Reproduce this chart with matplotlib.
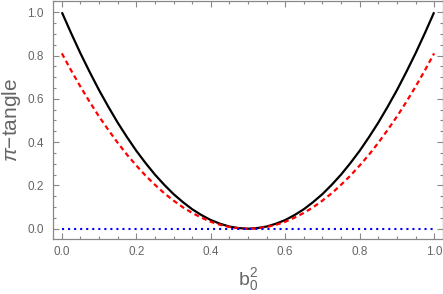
import matplotlib
matplotlib.use("Agg")
import matplotlib.pyplot as plt
from matplotlib.ticker import MultipleLocator

# values
x_vals = [0.000, 0.025, 0.050, 0.075, 0.100, 0.125, 0.150, 0.175, 0.200, 0.225,
          0.250, 0.275, 0.300, 0.325, 0.350, 0.375, 0.400, 0.425, 0.450, 0.475,
          0.500, 0.525, 0.550, 0.575, 0.600, 0.625, 0.650, 0.675, 0.700, 0.725,
          0.750, 0.775, 0.800, 0.825, 0.850, 0.875, 0.900, 0.925, 0.950, 0.975, 1.000]
black_vals = [1.000, 0.903, 0.810, 0.723, 0.640, 0.563, 0.490, 0.423, 0.360, 0.303,
              0.250, 0.203, 0.160, 0.123, 0.090, 0.063, 0.040, 0.023, 0.010, 0.003,
              0.000, 0.003, 0.010, 0.023, 0.040, 0.063, 0.090, 0.123, 0.160, 0.203,
              0.250, 0.303, 0.360, 0.423, 0.490, 0.563, 0.640, 0.723, 0.810, 0.903, 1.000]
red_vals = [0.810, 0.731, 0.656, 0.585, 0.518, 0.456, 0.397, 0.342, 0.292, 0.245,
            0.203, 0.164, 0.130, 0.099, 0.073, 0.051, 0.032, 0.018, 0.008, 0.002,
            0.000, 0.002, 0.008, 0.018, 0.032, 0.051, 0.073, 0.099, 0.130, 0.164,
            0.203, 0.245, 0.292, 0.342, 0.397, 0.456, 0.518, 0.585, 0.656, 0.731, 0.810]
blue_x = [0.0, 1.0]
blue_vals = [0.0, 0.0]
x_ticks = [0.0, 0.2, 0.4, 0.6, 0.8, 1.0]
y_ticks = [0.0, 0.2, 0.4, 0.6, 0.8, 1.0]
tick_labels = ['0.0', '0.2', '0.4', '0.6', '0.8', '1.0']

plt.rcParams['font.family'] = ['Liberation Sans', 'DejaVu Sans']
plt.rcParams['mathtext.fontset'] = 'custom'
plt.rcParams['mathtext.rm'] = 'Liberation Sans'
plt.rcParams['mathtext.it'] = 'Liberation Sans:italic'

fig = plt.figure(figsize=(4.43, 2.94), dpi=100)
ax = fig.add_axes([0.1203, 0.186, 0.879, 0.8106])

ax.plot(x_vals, black_vals, color='black', lw=1.6, solid_capstyle='butt')
ax.plot(x_vals, red_vals, color='#ff0000', lw=1.6, linestyle=(0, (2.2, 1.6)))
ax.plot(blue_x, blue_vals, color='#0000ff', lw=1.5, linestyle=(0, (1, 1.9)))

ax.set_xlim(-0.023, 1.023)
ax.set_ylim(-0.049, 1.052)
ax.set_xticks(x_ticks)
ax.set_yticks(y_ticks)
ax.xaxis.set_minor_locator(MultipleLocator(0.05))
ax.yaxis.set_minor_locator(MultipleLocator(0.05))

gray = '#888888'
for s in ax.spines.values():
    s.set_color(gray)
    s.set_linewidth(0.9)
ax.tick_params(which='both', direction='in', top=True, right=True,
               labeltop=False, labelright=False, color=gray, width=0.8)
ax.tick_params(which='major', length=4.5)
ax.tick_params(which='minor', length=2.5)
ax.tick_params(axis='y', which='major', labelsize=8.5, labelcolor='#666666', pad=7)
ax.tick_params(axis='x', which='major', labelsize=8.5, labelcolor='#666666', pad=5)
ax.set_xticklabels(tick_labels)
ax.set_yticklabels(tick_labels)

ax.set_ylabel(r'$\mathit{\pi}$' + '\u2212tangle', fontsize=15, color='#666666')
ax.yaxis.set_label_coords(-0.079, 0.5)
ax.set_xlabel(r'$\mathregular{b_0^2}$', fontsize=14, color='#666666', labelpad=6)

fig.savefig('out.png', dpi=100)
